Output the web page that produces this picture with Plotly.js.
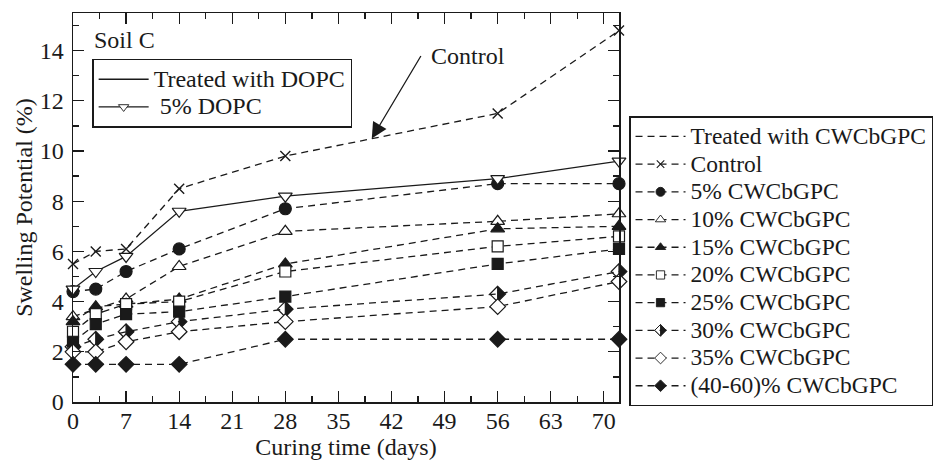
<!DOCTYPE html>
<html>
<head>
<meta charset="utf-8">
<script src="https://cdn.plot.ly/plotly-3.0.1.min.js"></script>
<style>html,body{margin:0;padding:0;background:#fff;}#chart{width:944px;height:462px;}</style>
</head>
<body>
<div id="chart"></div>
<script>
// ---- data ----
const days = [0, 3, 7, 14, 28, 56, 72];
const control   = [5.5, 6.0, 6.1, 8.5, 9.8, 11.5, 14.8];
const dopc5     = [4.5, 5.2, 5.8, 7.6, 8.2, 8.9, 9.6];
const cw5       = [4.4, 4.5, 5.2, 6.1, 7.7, 8.7, 8.7];
const cw10      = [3.4, 3.7, 4.1, 5.4, 6.8, 7.2, 7.5];
const cw15      = [3.2, 3.8, 3.9, 4.1, 5.5, 6.9, 7.0];
const cw20      = [2.8, 3.5, 3.9, 4.0, 5.2, 6.2, 6.6];
const cw25      = [2.4, 3.1, 3.5, 3.6, 4.2, 5.5, 6.1];
const cw30      = [2.2, 2.5, 2.8, 3.2, 3.7, 4.3, 5.2];
const cw35      = [2.0, 2.0, 2.4, 2.8, 3.2, 3.8, 4.8];
const cw4060    = [1.5, 1.5, 1.5, 1.5, 2.5, 2.5, 2.5];
const xTicks = [0, 7, 14, 21, 28, 35, 42, 49, 56, 63, 70];
const yTicks = [0, 2, 4, 6, 8, 10, 12, 14];

const FONT = '"Liberation Serif", "Times New Roman", serif';
const INK = '#1a1a1a';
const DASH = '7px,5px';
const big = (s, fs) => '<span style="font-size:' + (fs || 23.5) + 'px">' + s + '</span>';

function cwTrace(name, y, symbol, fill, size, uid) {
  return {
    x: days, y: y, name: big(name), legend: 'legend2', uid: uid,
    mode: 'lines+markers', cliponaxis: false,
    line: {color: INK, width: 1.3, dash: DASH},
    marker: {symbol: symbol, size: size, color: fill, line: {color: INK, width: 1.2}}
  };
}

const data = [
  {x: [null], y: [null], name: big('Treated with CWCbGPC'), legend: 'legend2', mode: 'lines',
   line: {color: INK, width: 1.3, dash: DASH}},
  {x: days, y: control, name: big('Control'), legend: 'legend2', uid: 'ctl', mode: 'lines+markers', cliponaxis: false,
   line: {color: INK, width: 1.3, dash: DASH},
   marker: {symbol: 'x-thin-open', size: 10, color: INK, line: {color: INK, width: 1.4}}},
  cwTrace('5% CWCbGPC', cw5, 'circle', INK, 12, 'c5'),
  cwTrace('10% CWCbGPC', cw10, 'triangle-up', '#fff', 12, 'c10'),
  cwTrace('15% CWCbGPC', cw15, 'triangle-up', INK, 12, 'c15'),
  cwTrace('20% CWCbGPC', cw20, 'square', '#fff', 11, 'c20'),
  cwTrace('25% CWCbGPC', cw25, 'square', INK, 11, 'c25'),
  cwTrace('30% CWCbGPC', cw30, 'diamond', INK, 12, 'c30'),
  cwTrace('35% CWCbGPC', cw35, 'diamond', '#fff', 12, 'c35'),
  cwTrace('(40-60)% CWCbGPC', cw4060, 'diamond', INK, 12, 'c4060'),
  {x: [null], y: [null], name: big('Treated with DOPC', 24), legend: 'legend', mode: 'lines',
   line: {color: INK, width: 1.3}},
  {x: days, y: dopc5, name: big(' 5% DOPC', 24), legend: 'legend', uid: 'd5', mode: 'lines+markers', cliponaxis: false,
   line: {color: INK, width: 1.3},
   marker: {symbol: 'triangle-down', size: 12, color: '#fff', line: {color: INK, width: 1.2}}}
];

const axisCommon = {
  showline: true, linecolor: INK, linewidth: 1.5, mirror: 'allticks',
  ticks: 'inside', ticklen: 11, tickwidth: 1.3, tickcolor: INK,
  showgrid: false, zeroline: false,
  tickfont: {family: FONT, size: 24, color: INK}
};

const legendCommon = {
  bgcolor: '#fff', bordercolor: INK, borderwidth: 1.5,
  font: {family: FONT, size: 19, color: INK},
  xanchor: 'left', yanchor: 'top', traceorder: 'normal', tracegroupgap: 0,
  itemclick: false, itemdoubleclick: false
};

const layout = {
  width: 944, height: 462,
  margin: {l: 73, r: 324, t: 13, b: 60},
  paper_bgcolor: '#fff', plot_bgcolor: '#fff',
  font: {family: FONT, color: INK},
  showlegend: true,
  xaxis: Object.assign({}, axisCommon, {
    range: [0, 72], tickvals: xTicks, ticklabelstandoff: -3,
    minor: {dtick: 3.5, tick0: 0, ticks: 'inside', ticklen: 6, tickwidth: 1.3, tickcolor: INK, showgrid: false},
    title: {text: 'Curing time (days)', font: {family: FONT, size: 24, color: INK}, standoff: 0}
  }),
  yaxis: Object.assign({}, axisCommon, {
    range: [0, 15.5], tickvals: yTicks, ticklabelstandoff: 3,
    minor: {dtick: 1, tick0: 0, ticks: 'inside', ticklen: 6, tickwidth: 1.3, tickcolor: INK, showgrid: false},
    title: {text: 'Swelling Potential (%)', font: {family: FONT, size: 24, color: INK}, standoff: 0}
  }),
  legend: Object.assign({}, legendCommon, {x: 0.035, y: 0.882, itemwidth: 50}),
  legend2: Object.assign({}, legendCommon, {x: 1.0165, y: 0.735, itemwidth: 50}),
  annotations: [
    {xref: 'paper', yref: 'paper', x: 0.035, y: 0.931, xanchor: 'left', yanchor: 'middle',
     text: 'Soil C', showarrow: false, font: {family: FONT, size: 24, color: INK}},
    {xref: 'x', yref: 'y', x: 46.9, y: 13.8, xanchor: 'left', yanchor: 'middle',
     text: 'Control', showarrow: false, font: {family: FONT, size: 24, color: INK}},
    {xref: 'x', yref: 'y', x: 39.4, y: 10.5, ax: 50, ay: -84, text: '', showarrow: true,
     arrowhead: 2, arrowsize: 2.4, arrowwidth: 1.3, arrowcolor: INK, standoff: 0, startstandoff: 0}
  ]
};

function halfFill(p) {
  const d = p.getAttribute('d') || '';
  const m = d.match(/^M([\d.]+),0L0,/);
  if (!m) return;
  const r = m[1];
  p.setAttribute('d', 'M' + r + ',0L0,' + r + 'L-' + r + ',0L0,-' + r + 'Z' +
                      'M0,-' + r + 'L-' + r + ',0L0,' + r + 'Z');
  p.style.fillRule = 'evenodd';
}
function applyTweaks(gd) {
  gd.querySelectorAll('.tracec30 path.point').forEach(halfFill);
  gd.querySelectorAll('g.traces').forEach(t => {
    const pts = t.querySelectorAll('path.scatterpts');
    if (t.textContent.indexOf('30%') >= 0) pts.forEach(halfFill);
    pts.forEach(p => {
      const tr = p.getAttribute('transform') || '';
      if (tr.indexOf('scale') < 0) p.setAttribute('transform', tr + ' scale(0.75)');
    });
  });
}

const gd = document.getElementById('chart');
Plotly.newPlot(gd, data, layout, {displayModeBar: false, staticPlot: true}).then(() => {
  applyTweaks(gd);
  gd.on('plotly_afterplot', () => applyTweaks(gd));
});
</script>
</body>
</html>
